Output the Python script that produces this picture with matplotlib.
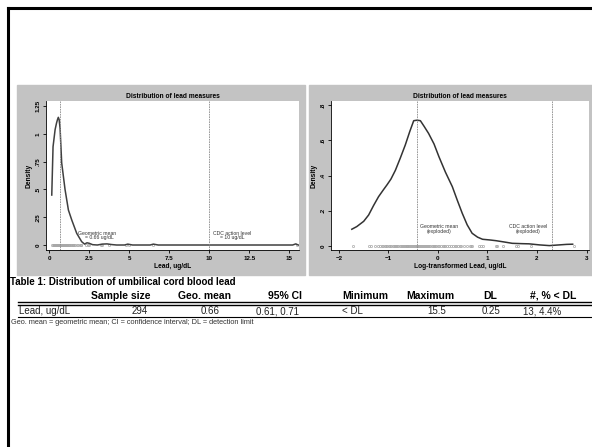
import numpy as np
import matplotlib.pyplot as plt
from matplotlib.patches import Rectangle
from matplotlib.lines import Line2D

plt.rcParams['font.family'] = ['Liberation Sans', 'DejaVu Sans']

W, H = 592, 447

# density of lead (ug/dL)
lead_x = [0.15, 0.23, 0.36, 0.45, 0.51, 0.56, 0.61, 0.67, 0.77, 0.98, 1.19, 1.4, 1.71, 2.02, 2.2,
          2.35, 2.5, 2.7, 3.0, 3.3, 3.6, 3.9, 4.2, 4.7, 4.9, 5.2, 6.3, 6.5, 6.8,
          15.2, 15.4, 15.55]
lead_y = [0.45, 0.885, 1.04, 1.10, 1.13, 1.15, 1.13, 1.05, 0.74, 0.50, 0.315, 0.225, 0.105, 0.03, 0.008,
          0.02, 0.015, 0.003, 0.0, 0.008, 0.01, 0.004, 0.0, 0.0, 0.008, 0.0, 0.0, 0.008, 0.0,
          0.0, 0.01, 0.0]

# density of log lead
log_x = [-1.74, -1.64, -1.5, -1.4, -1.3, -1.2, -1.1, -1.03, -0.95, -0.86, -0.76, -0.66,
         -0.57, -0.49, -0.42, -0.355, -0.28, -0.19, -0.08, 0.02, 0.15, 0.29, 0.39, 0.49,
         0.59, 0.69, 0.8, 0.9, 1.05, 1.17, 1.35, 1.5, 1.7, 1.84, 2.05, 2.25, 2.45, 2.6, 2.72]
log_y = [0.095, 0.11, 0.14, 0.176, 0.23, 0.28, 0.32, 0.347, 0.38, 0.43, 0.5, 0.574,
         0.65, 0.712, 0.715, 0.712, 0.68, 0.64, 0.58, 0.507, 0.42, 0.337, 0.26, 0.186,
         0.12, 0.072, 0.05, 0.038, 0.034, 0.03, 0.022, 0.015, 0.013, 0.012, 0.006, 0.002,
         0.006, 0.009, 0.01]

# individual measurements (rug)
lead_obs = [0.18, 0.25, 0.26, 0.28, 0.3, 0.31, 0.32, 0.33, 0.34, 0.35, 0.36, 0.37, 0.38,
            0.39, 0.4, 0.41, 0.42, 0.43, 0.44, 0.45, 0.46, 0.47, 0.48, 0.49, 0.5, 0.51,
            0.52, 0.53, 0.54, 0.55, 0.56, 0.57, 0.58, 0.59, 0.6, 0.62, 0.63, 0.64, 0.65,
            0.66, 0.67, 0.68, 0.7, 0.71, 0.72, 0.74, 0.75, 0.77, 0.78, 0.8, 0.82, 0.84,
            0.86, 0.88, 0.9, 0.92, 0.95, 0.97, 1.0, 1.03, 1.06, 1.1, 1.13, 1.16, 1.2,
            1.25, 1.3, 1.35, 1.4, 1.45, 1.5, 1.55, 1.6, 1.7, 1.8, 1.9, 1.95, 2.0, 2.3,
            2.4, 2.5, 3.2, 3.3, 3.7, 4.8, 5.0, 6.5, 15.5]

geo_mean = 0.66
cdc_level = 10

col_heads = ['Sample size', 'Geo. mean', '95% CI', 'Minimum', 'Maximum', 'DL', '#, % < DL']
row_label = 'Lead, ug/dL'
row_vals = ['294', '0.66', '0.61, 0.71', '< DL', '15.5', '0.25', '13, 4.4%']

fig = plt.figure(figsize=(W / 100, H / 100), dpi=100)


def fx(px):
    return px / W


def fy(py):
    return 1 - py / H


# grey graph backgrounds
grey = '#c3c3c3'
fig.patches.append(Rectangle((fx(17), fy(275)), fx(305 - 17), (275 - 85) / H,
                             transform=fig.transFigure, color=grey, zorder=-10))
fig.patches.append(Rectangle((fx(309), fy(275)), fx(592 - 309), (275 - 85) / H,
                             transform=fig.transFigure, color=grey, zorder=-10))

# slide border
fig.add_artist(Line2D([fx(8), fx(8)], [fy(8), 0], color='black', lw=2.2))
fig.add_artist(Line2D([fx(8), 1], [fy(8), fy(8)], color='black', lw=2.2))

ax1 = fig.add_axes([fx(46), fy(250), fx(299 - 46), (250 - 101) / H])
ax2 = fig.add_axes([fx(331), fy(250), fx(589 - 331), (250 - 101) / H])

for ax in (ax1, ax2):
    ax.set_facecolor('white')
    ax.spines['top'].set_visible(False)
    ax.spines['right'].set_visible(False)
    ax.spines['left'].set_linewidth(0.6)
    ax.spines['bottom'].set_linewidth(0.6)
    ax.tick_params(length=2.5, width=0.6, labelsize=4.5, pad=1.5)
    ax.set_title('Distribution of lead measures', fontsize=4.8, fontweight='bold', pad=2.5)
    ax.set_ylabel('Density', fontsize=4.8, fontweight='bold', labelpad=2)

# left: raw scale
ax1.plot(lead_obs, np.zeros(len(lead_obs)), 'o', ms=1.6, mfc='none', mec='#a8a8a8', mew=0.5)
ax1.plot(lead_x, lead_y, color='#404040', lw=1.1)
ax1.axvline(geo_mean, color='#8a8a8a', lw=0.6, ls=(0, (2, 1)))
ax1.axvline(cdc_level, color='#8a8a8a', lw=0.6, ls=(0, (2, 1)))
ax1.text(3.0, 0.1, 'Geometric mean', fontsize=3.7, ha='center', va='center', color='#333333')
ax1.text(3.1, 0.065, '= 0.66 ug/dL', fontsize=3.7, ha='center', va='center', color='#333333')
ax1.text(11.4, 0.1, 'CDC action level', fontsize=3.7, ha='center', va='center', color='#333333')
ax1.text(11.4, 0.065, '= 10 ug/dL', fontsize=3.7, ha='center', va='center', color='#333333')
ax1.set_xlim(-0.21, 15.6)
ax1.set_ylim(-0.045, 1.297)
ax1.set_xticks([0, 2.5, 5, 7.5, 10, 12.5, 15])
ax1.set_xticklabels(['0', '2.5', '5', '7.5', '10', '12.5', '15'])
ax1.set_yticks([0, 0.25, 0.5, 0.75, 1, 1.25])
ax1.set_yticklabels(['0', '.25', '.5', '.75', '1', '1.25'], rotation=90, va='center')
ax1.set_xlabel('Lead, ug/dL', fontsize=4.8, fontweight='bold', labelpad=1.5)

# right: log scale
ax2.plot(np.log(lead_obs), np.zeros(len(lead_obs)), 'o', ms=1.6, mfc='none', mec='#a8a8a8', mew=0.5)
ax2.plot(log_x, log_y, color='#333333', lw=1.1)
ax2.axvline(np.log(geo_mean), color='#8a8a8a', lw=0.6, ls=(0, (2, 1)))
ax2.axvline(np.log(cdc_level), color='#8a8a8a', lw=0.6, ls=(0, (2, 1)))
ax2.text(0.03, 0.11, 'Geometric mean', fontsize=3.7, ha='center', va='center', color='#333333')
ax2.text(0.03, 0.085, '(exploded)', fontsize=3.7, ha='center', va='center', color='#333333')
ax2.text(1.82, 0.11, 'CDC action level', fontsize=3.7, ha='center', va='center', color='#333333')
ax2.text(1.82, 0.085, '(exploded)', fontsize=3.7, ha='center', va='center', color='#333333')
ax2.set_xlim(-2.16, 3.05)
ax2.set_ylim(-0.023, 0.824)
ax2.set_xticks([-2, -1, 0, 1, 2, 3])
ax2.set_yticks([0, 0.2, 0.4, 0.6, 0.8])
ax2.set_yticklabels(['0', '.2', '.4', '.6', '.8'], rotation=90, va='center')
ax2.set_xlabel('Log-transformed Lead, ug/dL', fontsize=4.8, fontweight='bold', labelpad=1.5)

for ax in (ax1, ax2):
    for lab in ax.get_xticklabels() + ax.get_yticklabels():
        lab.set_fontweight('bold')

# table
fig.text(fx(10), fy(282), 'Table 1: Distribution of umbilical cord blood lead',
         fontsize=7, fontweight='bold', va='center')
head_x = [121, 205, 285, 365, 430, 490, 553]
val_x = [140, 210, 277, 352, 437, 491, 542]
for h, x in zip(col_heads, head_x):
    fig.text(fx(x), fy(296), h, fontsize=7.5, fontweight='bold', ha='center', va='center')
fig.add_artist(Line2D([fx(18), 1], [fy(302), fy(302)], color='black', lw=1.0))
fig.add_artist(Line2D([fx(18), 1], [fy(304.5), fy(304.5)], color='black', lw=1.0))
fig.text(fx(19), fy(311), row_label, fontsize=7, va='center', color='#222222')
for v, x in zip(row_vals, val_x):
    fig.text(fx(x), fy(311), v, fontsize=7, ha='center', va='center', color='#222222')
fig.add_artist(Line2D([fx(18), 1], [fy(316.5), fy(316.5)], color='black', lw=0.8))
fig.text(fx(11), fy(322), 'Geo. mean = geometric mean; CI = confidence interval; DL = detection limit',
         fontsize=5.3, va='center', color='#333333')

fig.savefig('out.png', dpi=100)
